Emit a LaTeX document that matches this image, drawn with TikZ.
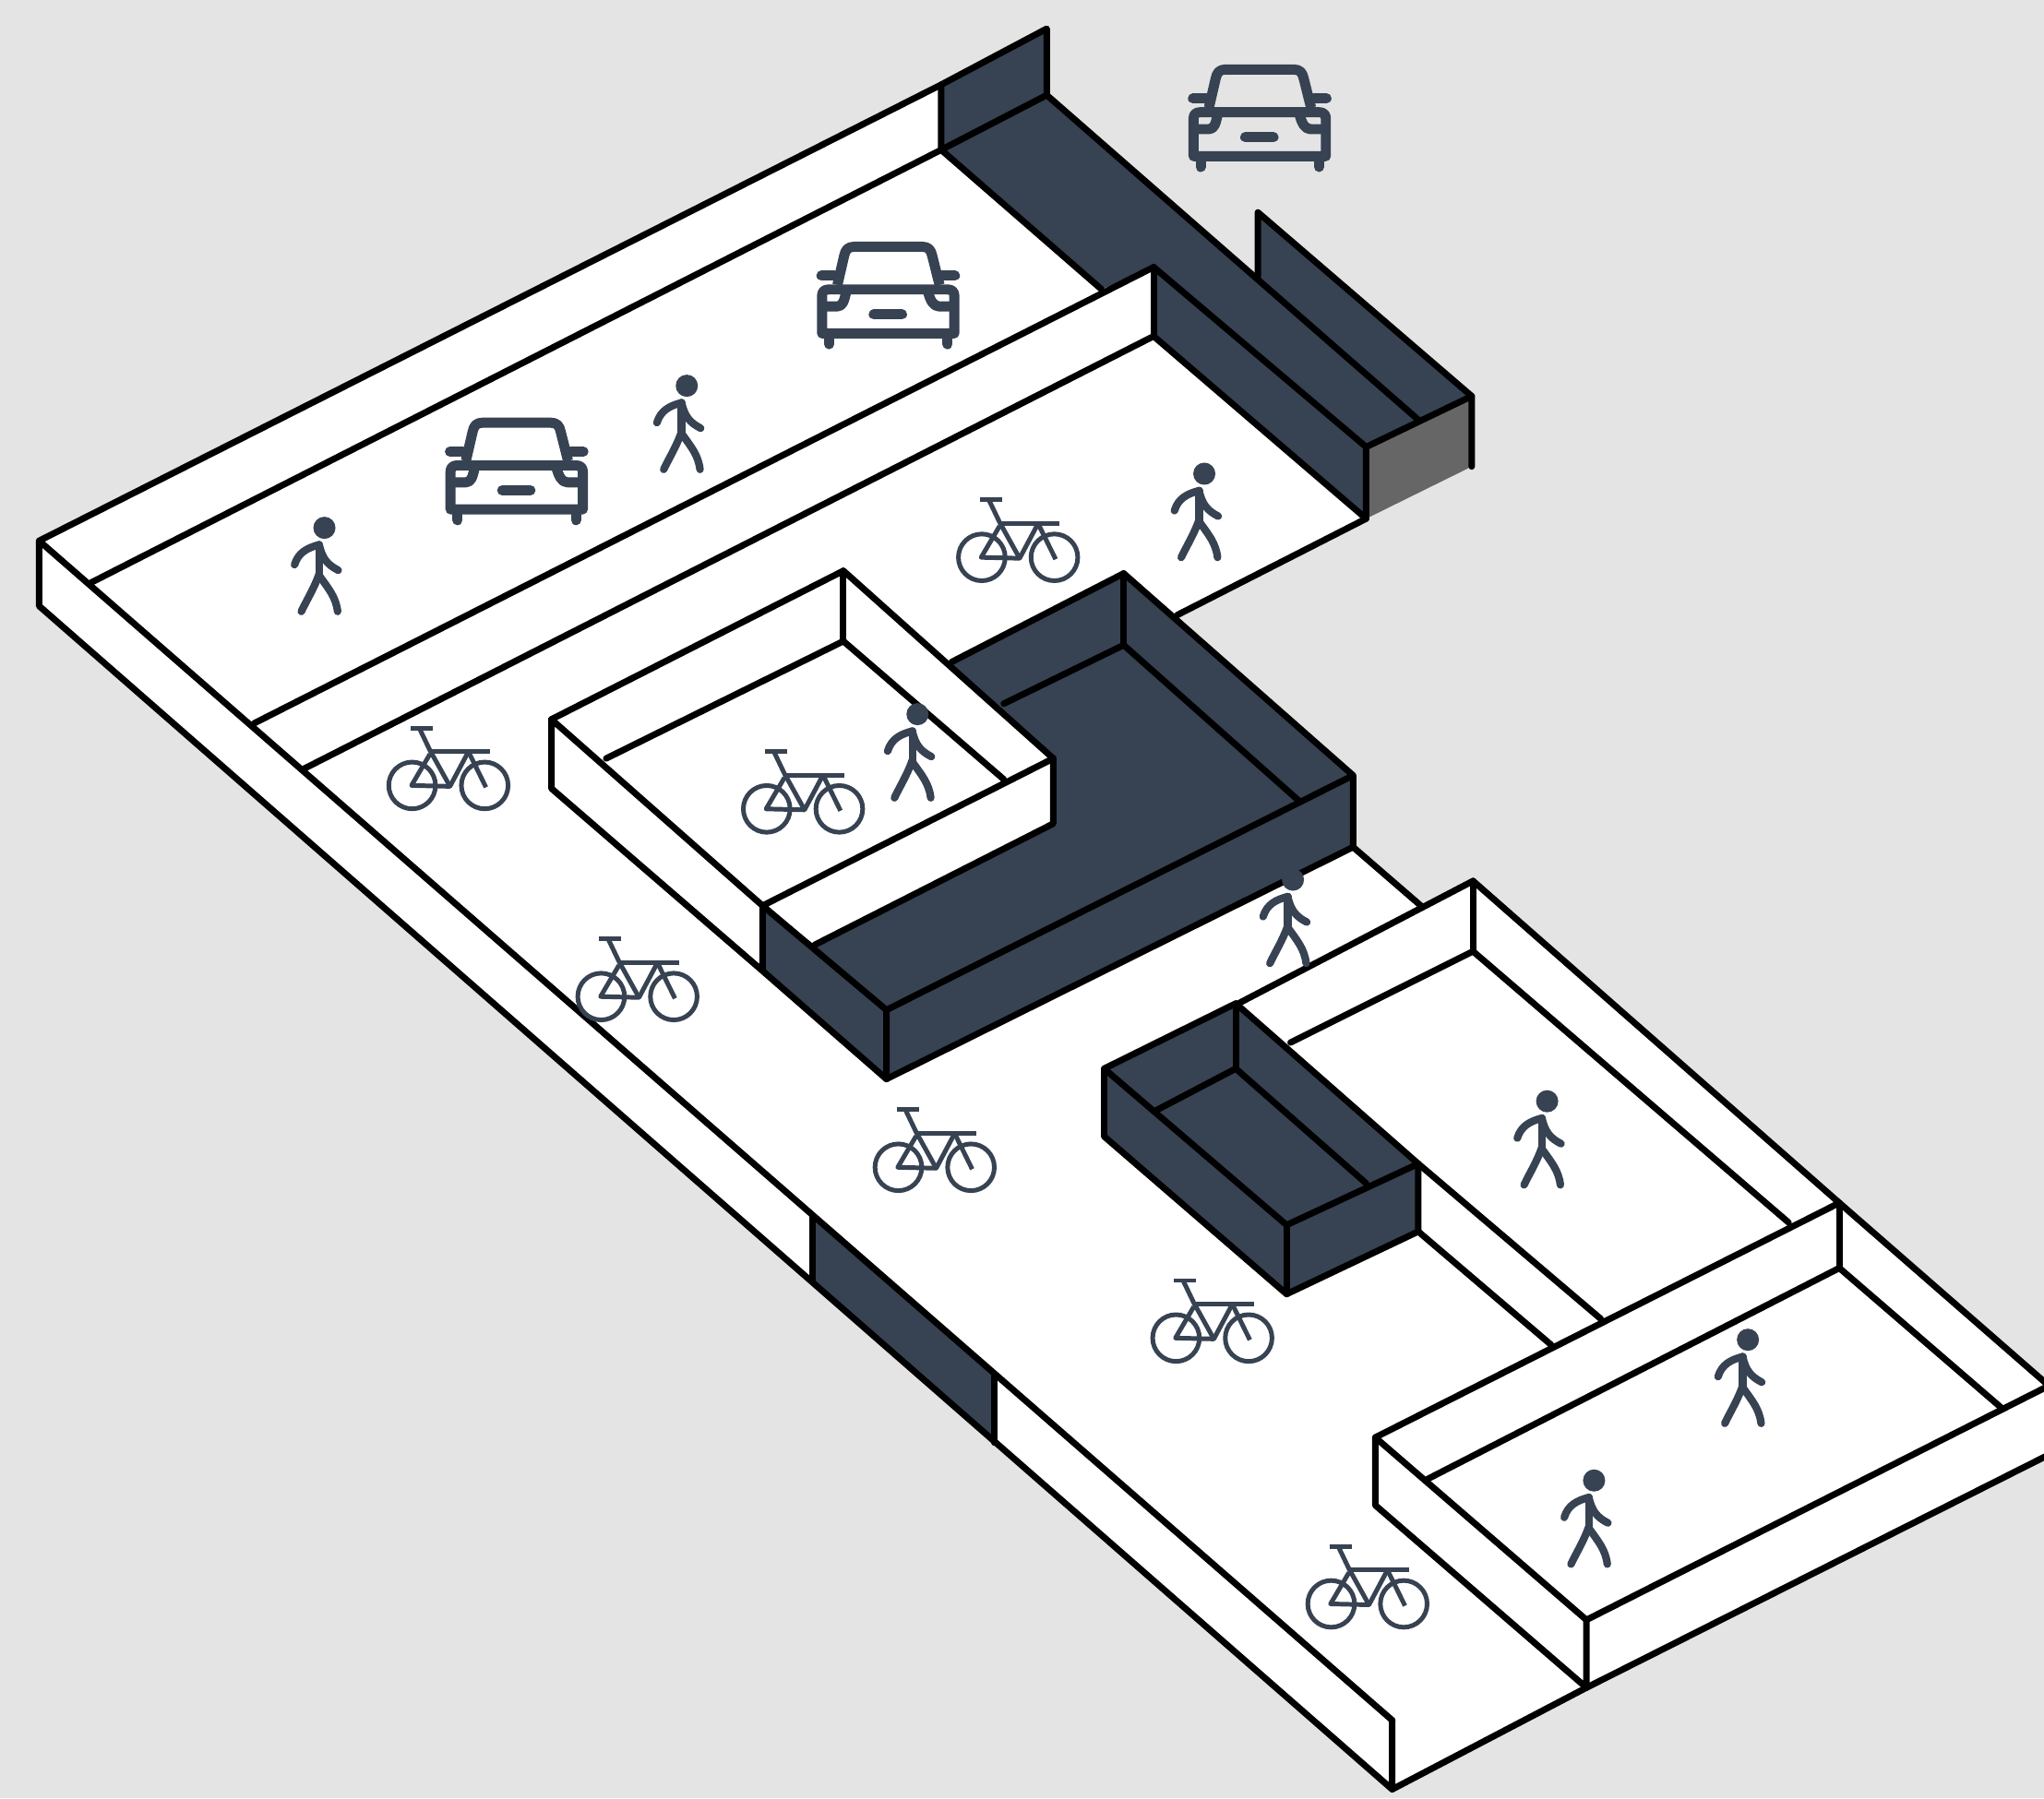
\documentclass[tikz,border=0pt]{standalone}
\definecolor{bgc}{HTML}{E4E4E4}
\definecolor{darkc}{HTML}{374252}
\definecolor{grayc}{HTML}{666666}
\tikzset{
  ln/.style={draw=black,line width=1.4pt,line join=round,line cap=round},
  darkface/.style={fill=darkc},
  carpic/.pic={
    \begin{scope}[draw=darkc,line width=2.2pt,line cap=butt,line join=round]
      \draw (150,200) -- (172,105) .. controls (176,86) and (184,76) .. (205,76) -- (425,76)
            .. controls (446,76) and (454,86) .. (458,105) -- (482,200);
      \draw[line cap=round] (98,170) -- (140,170) (490,170) -- (532,170);
      \draw (100,358) -- (100,235) .. controls (100,222) and (108,215) .. (122,215) -- (508,215)
            .. controls (522,215) and (530,222) .. (530,235) -- (530,358) -- cycle;
      \draw (100,270) -- (150,270) .. controls (168,270) and (172,250) .. (178,225);
      \draw (530,270) -- (480,270) .. controls (462,270) and (452,250) .. (445,225);
      \draw[line cap=round] (268,296) -- (360,296);
      \draw[line cap=round] (123,360) -- (123,393) (508,360) -- (508,393);
    \end{scope}},
  bikepic/.pic={
    \begin{scope}[draw=darkc,line width=1pt,line cap=butt,line join=round]
      \draw (126,155) -- (198,155);
      \draw (155,155) -- (190,228) -- (255,345);
      \draw (190,232) -- (385,232);
      \draw (315,232) -- (255,345) -- (130,342) -- (190,240);
      \draw (315,232) -- (372,348);
      \draw (132,342) circle[radius=76];
      \draw (368,342) circle[radius=76];
    \end{scope}},
  walkerpic/.pic={
    \begin{scope}[draw=darkc,line width=1.65pt,line cap=round,line join=round]
      \fill[darkc] (135,70) circle[radius=36];
      \draw (38,190) .. controls (50,150) and (80,135) .. (118,125);
      \draw (118,125) -- (118,225);
      \draw (118,125) .. controls (128,170) and (145,190) .. (180,208);
      \draw (118,220) .. controls (100,270) and (80,300) .. (60,342);
      \draw (118,225) .. controls (150,270) and (172,295) .. (178,342);
    \end{scope}}
}
\begin{document}
\begin{tikzpicture}[x=0.01cm,y=-0.01cm]
  \clip (0,0) rectangle (1568,1380);
  \fill[bgc] (0,0) rectangle (1568,1380);
  % white slab
  \fill[white] (30,465) -- (30,415) -- (722,65) -- (722,115) -- (845,222) -- (885,205) -- (885,258)
     -- (1048,398) -- (903,472) -- (862,440) -- (1038,595) -- (1038,650) -- (1090,695) -- (1130,676)
     -- (1411,923) -- (1600,1088) -- (1600,1102) -- (1068,1373) -- cycle;
  % dark faces at the top
  \fill[darkc] (722,65) -- (803,22) -- (803,73) -- (965,212) -- (965,163) -- (1129,304) -- (1048,343)
     -- (1048,398) -- (885,258) -- (885,205) -- (845,222) -- (722,115) -- cycle;
  \fill[grayc] (1048,343) -- (1129,304) -- (1129,358) -- (1048,398) -- cycle;
  % central dark block
  \fill[darkc] (730,508) -- (862,440) -- (1038,595) -- (1038,650) -- (680,828) -- (585,745) -- (585,695) -- cycle;
  % white courtyard block
  \fill[white] (423,552) -- (647,438) -- (808,582) -- (808,632) -- (625,725) -- (585,695) -- (585,745) -- (423,605) -- cycle;
  % small dark block
  \fill[darkc] (847,820) -- (948,770) -- (1088,893) -- (1088,945) -- (987,993) -- (847,872) -- cycle;
  % dark stretch of the front wall
  \fill[darkc] (623,933) -- (763,1055) -- (763,1107) -- (623,983) -- cycle;

  % outlines: slab
  \draw[ln] (1068,1320) -- (30,415) -- (722,65) -- (803,22) -- (803,73) -- (1089,323);
  \draw[ln] (30,415) -- (30,465) -- (1068,1373) -- (1068,1320);
  \draw[ln] (1068,1373) -- (1217,1295);
  \draw[ln] (70,447) -- (722,115) -- (845,222);
  \draw[ln] (722,65) -- (722,115) -- (803,73);
  \draw[ln] (195,555) -- (885,205) -- (1048,343) -- (1048,398) -- (885,258) -- (233,590);
  \draw[ln] (885,205) -- (885,258);
  \draw[ln] (965,212) -- (965,163) -- (1129,304) -- (1129,358);
  \draw[ln] (1048,343) -- (1129,304);
  \draw[ln] (1048,398) -- (903,472);
  \draw[ln] (623,933) -- (623,983);
  \draw[ln] (763,1055) -- (763,1107);
  % courtyard block and central dark block
  \draw[ln] (423,552) -- (647,438) -- (808,582) -- (808,632) -- (625,725);
  \draw[ln] (808,582) -- (585,695) -- (423,552) -- (423,605) -- (585,745) -- (585,695) -- (680,775) -- (680,828) -- (585,745);
  \draw[ln] (465,582) -- (647,492) -- (770,598);
  \draw[ln] (647,438) -- (647,492);
  \draw[ln] (730,508) -- (862,440) -- (1038,595) -- (1038,650) -- (680,828);
  \draw[ln] (680,775) -- (1038,595);
  \draw[ln] (770,540) -- (862,495) -- (997,615);
  \draw[ln] (862,440) -- (862,495);
  \draw[ln] (1038,650) -- (1090,695);
  % small dark block and right hand block
  \draw[ln] (950,770) -- (1130,676) -- (1411,923);
  \draw[ln] (990,800) -- (1130,730) -- (1372,938);
  \draw[ln] (1130,676) -- (1130,730);
  \draw[ln] (847,820) -- (948,770) -- (1088,893) -- (987,940) -- cycle;
  \draw[ln] (847,820) -- (847,872) -- (987,993) -- (1088,945) -- (1088,893);
  \draw[ln] (987,940) -- (987,993);
  \draw[ln] (887,852) -- (948,820) -- (1048,908);
  \draw[ln] (948,770) -- (948,820);
  \draw[ln] (1088,893) -- (1228,1012);
  \draw[ln] (1088,945) -- (1190,1032);
  % bottom right block
  \draw[ln] (1217,1243) -- (1055,1103) -- (1411,923) -- (1600,1088);
  \draw[ln] (1055,1103) -- (1055,1155) -- (1217,1295) -- (1217,1243);
  \draw[ln] (1217,1243) -- (1600,1049);
  \draw[ln] (1217,1295) -- (1600,1102);
  \draw[ln] (1095,1135) -- (1411,973) -- (1535,1080);
  \draw[ln] (1411,923) -- (1411,973);

  % cars
  \pic[scale=0.236] at (892,35.4) {carpic};
  \pic[scale=0.236] at (607,171.4) {carpic};
  \pic[scale=0.236] at (322,306.4) {carpic};
  % bikes
  \pic[scale=0.236] at (722,347) {bikepic};
  \pic[scale=0.236] at (285,522) {bikepic};
  \pic[scale=0.236] at (557,540) {bikepic};
  \pic[scale=0.236] at (430,684) {bikepic};
  \pic[scale=0.236] at (658,815) {bikepic};
  \pic[scale=0.236] at (871,946) {bikepic};
  \pic[scale=0.236] at (990,1150) {bikepic};
  % walkers
  \pic[scale=0.236] at (217,388.5) {walkerpic};
  \pic[scale=0.236] at (495,279.5) {walkerpic};
  \pic[scale=0.236] at (892,347) {walkerpic};
  \pic[scale=0.236] at (672,531.5) {walkerpic};
  \pic[scale=0.236] at (960,658.5) {walkerpic};
  \pic[scale=0.236] at (1155,828.5) {walkerpic};
  \pic[scale=0.236] at (1309,1011.5) {walkerpic};
  \pic[scale=0.236] at (1191,1119.5) {walkerpic};
\end{tikzpicture}
\end{document}
